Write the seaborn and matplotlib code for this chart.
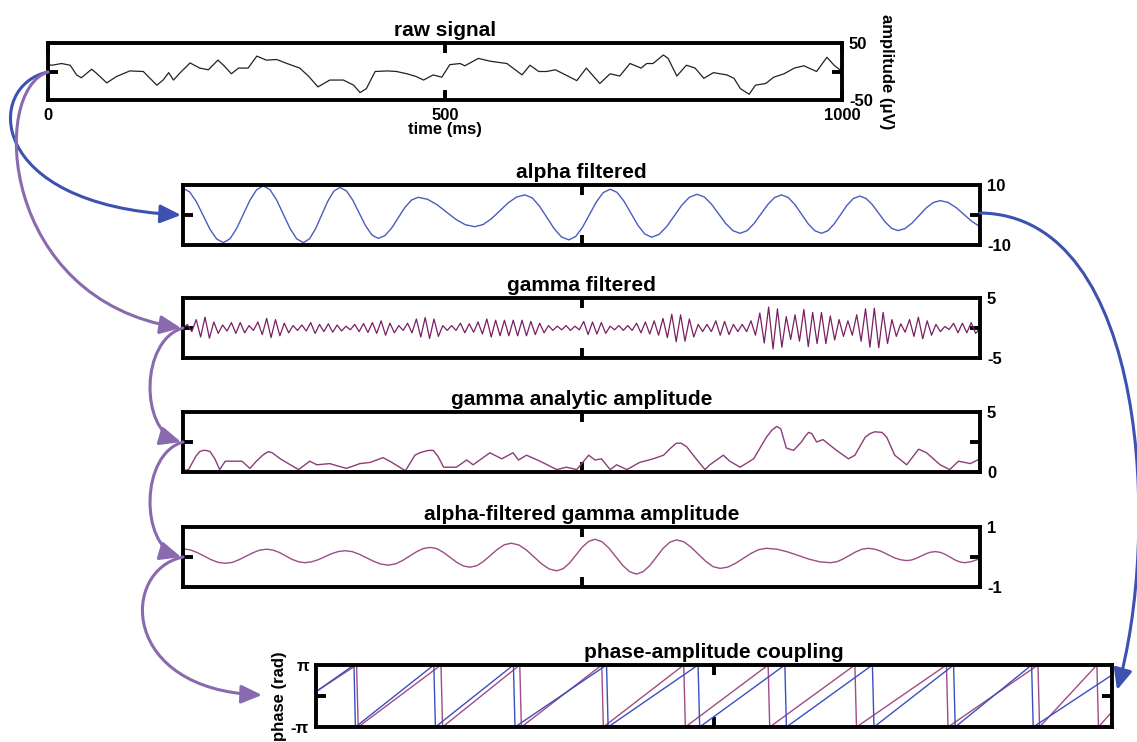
import numpy as np
import matplotlib
matplotlib.use("Agg")
import matplotlib.pyplot as plt
import seaborn as sns
from matplotlib.path import Path
from matplotlib.patches import FancyArrowPatch

sns.set_theme(style="white")
plt.rcParams["font.family"] = ["Liberation Sans", "DejaVu Sans"]
plt.rcParams["font.weight"] = "bold"
plt.rcParams["text.color"] = "black"
plt.rcParams["axes.labelcolor"] = "black"
plt.rcParams["xtick.color"] = "black"
plt.rcParams["ytick.color"] = "black"

# ---- data (time in ms) ----
raw_t = [0, 5, 17, 28, 36, 42, 55, 61, 74, 86, 103, 120, 137, 145, 152, 158, 168, 179,
         191, 202, 214, 221, 231, 240, 252, 263, 275, 288, 301, 317, 328, 340, 355, 372,
         385, 393, 401, 412, 427, 439, 452, 464, 473, 485, 496, 506, 519, 525, 542, 557,
         578, 597, 607, 618, 628, 639, 649, 666, 678, 695, 708, 720, 733, 747, 754, 762,
         775, 781, 792, 804, 815, 826, 838, 855, 864, 872, 883, 891, 904, 914, 927, 940,
         952, 968, 981, 990, 1000]
raw_v = [12, 11, 14, 11, -6, -11, 4, -3, -20, -9, 1, 0, -24, -15, -2, -15, 0, 15,
         6, 3, 20, 11, -4, 6, 6, 27, 20, 21, 14, 6, -8, -27, -15, -15,
         -24, -37, -30, 0, 1, 0, -4, -9, -15, -6, -10, 12, 14, 10, 23, 18,
         14, -6, 11, 0, 0, 3, -4, -16, 6, -21, -4, -8, 14, 6, 14, 14,
         29, 23, -8, 11, 6, -12, -2, -6, -12, -30, -40, -24, -21, -10, -4, 6,
         10, 0, 25, 11, 0]

alpha_t = [0,
           8.4, 16.9, 25.3, 33.7, 42.2, 50.6,
           59.0, 67.3, 75.7, 84.1, 92.4, 100.8,
           109.2, 117.5, 125.9, 134.3, 142.6, 151,
           158.7, 166.3, 174, 181.7, 189.3, 197,
           205, 213, 221, 229, 237, 245,
           253.3, 261.7, 270, 278.3, 286.7, 295,
           306.8, 318.7, 330.5, 342.3, 354.2, 366,
           376.5, 387, 397.5, 408, 418.5, 429,
           438.2, 447.3, 456.5, 465.7, 474.8, 484,
           492.7, 501.3, 510, 518.7, 527.3, 536,
           544.7, 553.3, 562, 570.7, 579.3, 588,
           597.5, 607, 616.5, 626, 635.5, 645,
           654, 663, 672, 681, 690, 699,
           707.7, 716.3, 725, 733.7, 742.3, 751,
           759.3, 767.7, 776, 784.3, 792.7, 801,
           809, 817, 825, 833, 841, 849,
           857, 865, 873, 881, 889, 897,
           905.8, 914.7, 923.5, 932.3, 941.2, 950,
           960, 970, 980, 990, 1000]
alpha_v = [8.9,
           7.69, 4.38, -0.15, -4.68, -7.99, -9.2,
           -7.93, -4.48, 0.25, 4.98, 8.43, 9.7,
           8.43, 4.98, 0.25, -4.48, -7.93, -9.2,
           -7.97, -4.6, 0, 4.6, 7.97, 9.2,
           8.06, 4.95, 0.7, -3.55, -6.66, -7.8,
           -6.88, -4.38, -0.95, 2.48, 4.98, 5.9,
           5.24, 3.45, 1.0, -1.45, -3.24, -3.9,
           -3.19, -1.25, 1.4, 4.05, 5.99, 6.7,
           5.7, 2.95, -0.8, -4.55, -7.3, -8.3,
           -7.17, -4.08, 0.15, 4.38, 7.47, 8.6,
           7.53, 4.6, 0.6, -3.4, -6.33, -7.4,
           -6.44, -3.83, -0.25, 3.33, 5.94, 6.9,
           6.03, 3.65, 0.4, -2.85, -5.23, -6.1,
           -5.24, -2.9, 0.3, 3.5, 5.84, 6.7,
           5.84, 3.5, 0.3, -2.9, -5.24, -6.1,
           -5.27, -3.0, 0.1, 3.2, 5.47, 6.3,
           5.53, 3.43, 0.55, -2.33, -4.43, -5.2,
           -4.53, -2.7, -0.2, 2.3, 4.13, 4.8,
           4.18, 2.48, 0.15, -2.18, -3.88]

# gamma-filtered trace: one value per half cycle (peak / trough)
gamma_filt = [
    0.6, -0.6, 1.4, -1.5, 1.8, -1.7, 1.0, -0.9, 0.5, -0.5,
    0.9, -0.9, 0.9, -0.8, 0.4, -0.4, 1.0, -1.1, 1.6, -1.6,
    1.4, -1.3, 0.8, -0.8, 0.4, -0.4, 0.5, -0.5, 0.9, -0.9,
    0.6, -0.6, 0.7, -0.7, 0.5, -0.5, 0.3, -0.3, 0.6, -0.6,
    0.75, -0.75, 0.9, -0.9, 1.2, -1.2, 0.8, -0.8, 0.4, -0.4,
    0.8, -0.8, 1.5, -1.5, 1.75, -1.75, 1.5, -1.4, 0.4, -0.4,
    0.4, -0.4, 0.8, -0.8, 0.7, -0.7, 1.0, -1.0, 1.5, -1.5,
    1.3, -1.3, 1.3, -1.3, 1.3, -1.3, 1.3, -1.3, 1.1, -1.1,
    0.8, -0.8, 0.4, -0.4, 0.3, -0.3, 0.4, -0.4, 0.3, -0.3,
    1.1, -1.1, 1.0, -1.0, 0.9, -0.9, 0.3, -0.3, 0.4, -0.4,
    0.4, -0.4, 0.8, -0.8, 1.0, -1.0, 1.2, -1.2, 1.6, -1.6,
    2.3, -2.3, 2.2, -2.2, 1.5, -1.5, 0.6, -0.6, 0.6, -0.6,
    1.2, -1.2, 1.1, -1.1, 0.6, -0.6, 0.6, -0.6, 1.2, -1.2,
    2.5, -2.5, 3.5, -3.5, 3.2, -3.2, 1.9, -1.9, 2.2, -2.2,
    3.1, -3.1, 2.6, -2.6, 2.6, -2.6, 2.0, -2.0, 1.4, -1.4,
    1.2, -1.2, 2.2, -2.2, 3.2, -3.2, 3.3, -3.3, 2.6, -2.6,
    1.4, -1.4, 0.7, -0.7, 1.4, -1.4, 1.8, -1.8, 1.2, -1.2,
    0.6, -0.6, 0.25, -0.25, 0.8, -0.8, 0.8, -0.8, 0.9, -0.9,
]

amp_t = [0, 7, 16, 21, 25, 29, 34, 40, 46, 53, 67, 74, 84, 92, 100, 107, 112, 122, 145, 159,
         168, 184, 205, 222, 235, 251, 262, 279, 291, 297, 302, 308, 314, 320, 327, 343, 356,
         364, 385, 400, 414, 421, 431, 448, 469, 481, 494, 509, 517, 525, 536, 544, 557, 573,
         590, 603, 612, 619, 625, 632, 645, 655, 661, 678, 686, 699, 716, 732, 739, 745, 750,
         757, 766, 776, 781, 785, 789, 795, 803, 820, 835, 843, 856, 862, 868, 877, 883, 893,
         908, 923, 933, 950, 962, 973, 988, 1000]
amp_v = [0.1, 0.2, 1.3, 1.7, 1.8, 1.8, 1.7, 1.1, 0.2, 0.9, 0.9, 0.9, 0.3, 0.9, 1.4, 1.7, 1.6,
         1.1, 0.2, 0.9, 0.6, 0.7, 0.3, 0.7, 0.8, 1.2, 0.8, 0.1, 1.4, 1.6, 1.7, 1.8, 1.8, 1.3,
         0.4, 0.4, 1.0, 0.6, 1.6, 1.1, 1.6, 1.0, 1.4, 0.9, 0.2, 0.4, 0.2, 1.4, 1.0, 1.1, 0.2,
         0.6, 0.2, 0.8, 1.1, 1.4, 2.0, 2.4, 2.4, 2.1, 1.0, 0.2, 0.6, 1.4, 0.9, 0.4, 1.1, 2.9,
         3.5, 3.8, 3.6, 2.0, 1.8, 2.5, 3.0, 3.3, 3.2, 2.5, 2.7, 1.8, 1.1, 1.4, 2.9, 3.2, 3.35,
         3.3, 2.9, 1.4, 0.6, 1.9, 1.6, 0.6, 0.2, 0.9, 0.7, 1.1]

amp_alpha_t = [0,
               8.8, 17.7, 26.5, 35.3, 44.2, 53,
               61.7, 70.3, 79, 87.7, 96.3, 105,
               113, 121, 129, 137, 145, 153,
               161.3, 169.7, 178, 186.3, 194.7, 203,
               212.2, 221.3, 230.5, 239.7, 248.8, 258,
               266.7, 275.3, 284, 292.7, 301.3, 310,
               318.3, 326.7, 335, 343.3, 351.7, 360,
               368.7, 377.3, 386, 394.7, 403.3, 412,
               421.5, 431, 440.5, 450, 459.5, 469,
               477, 485, 493, 501, 509, 517,
               525.7, 534.3, 543, 551.7, 560.3, 569,
               577.3, 585.7, 594, 602.3, 610.7, 619,
               628.2, 637.3, 646.5, 655.7, 664.8, 674,
               683.7, 693.3, 703, 712.7, 722.3, 732,
               745.3, 758.7, 772, 785.3, 798.7, 812,
               820, 828, 836, 844, 852, 860,
               868, 876, 884, 892, 900, 908,
               914, 920, 926, 932, 938, 944,
               950.2, 956.3, 962.5, 968.7, 974.8, 981,
               990, 1000]
amp_alpha_v = [0.27,
               0.24, 0.15, 0.03, -0.09, -0.18, -0.21,
               -0.18, -0.09, 0.025, 0.14, 0.23, 0.26,
               0.23, 0.15, 0.035, -0.08, -0.16, -0.19,
               -0.16, -0.09, 0.01, 0.11, 0.18, 0.21,
               0.18, 0.09, -0.03, -0.15, -0.24, -0.27,
               -0.23, -0.12, 0.025, 0.17, 0.28, 0.32,
               0.28, 0.155, -0.01, -0.175, -0.30, -0.34,
               -0.29, -0.14, 0.06, 0.26, 0.41, 0.46,
               0.40, 0.23, 0.0, -0.23, -0.40, -0.46,
               -0.39, -0.2, 0.065, 0.33, 0.52, 0.59,
               0.51, 0.30, 0.01, -0.28, -0.49, -0.57,
               -0.49, -0.285, 0.0, 0.285, 0.49, 0.57,
               0.51, 0.33, 0.095, -0.14, -0.32, -0.38,
               -0.335, -0.21, -0.045, 0.12, 0.245, 0.29,
               0.26, 0.17, 0.05, -0.07, -0.16, -0.19,
               -0.16, -0.07, 0.05, 0.17, 0.26, 0.29,
               0.26, 0.19, 0.085, -0.02, -0.09, -0.12,
               -0.10, -0.045, 0.03, 0.105, 0.16, 0.18,
               0.155, 0.09, -0.005, -0.10, -0.165, -0.19,
               -0.15, -0.05]

PI = np.pi
phase_alpha_t = [0, 47.7, 49.5, 148, 150, 248, 250, 365, 367, 480, 482, 589, 591,
                 699, 701, 801, 803, 899, 901, 1000]
phase_alpha_v = [0.44, PI, -PI, PI, -PI, PI, -PI, PI, -PI, PI, -PI, PI, -PI,
                 PI, -PI, PI, -PI, PI, -PI, 2.13]
phase_amp_t = [0, 51, 53, 157, 159, 256, 258, 359, 361, 462, 464, 568, 570,
               677, 679, 792, 794, 907, 909, 981, 983, 1000]
phase_amp_v = [0.44, PI, -PI, PI, -PI, PI, -PI, PI, -PI, PI, -PI, PI, -PI,
               PI, -PI, PI, -PI, PI, -PI, PI, -PI, -1.6]

# ---- figure ----
W, H = 1137, 742
fig = plt.figure(figsize=(W / 100, H / 100), dpi=100)


def px_axes(x0, y0, x1, y1):
    return fig.add_axes([x0 / W, 1 - y1 / H, (x1 - x0) / W, (y1 - y0) / H])


def style_panel(ax, ylim, ylabels, title, side="right", xlabels=False):
    ax.set_xlim(0, 1000)
    ax.set_ylim(*ylim)
    for s in ax.spines.values():
        s.set_visible(True)
        s.set_linewidth(2.8)
        s.set_color("black")
    if xlabels:
        ax.set_xticks([0, 500, 1000])
        ax.set_xticklabels(["0", "500", "1000"], fontsize=12, fontweight="bold")
    else:
        ax.set_xticks([500])
        ax.set_xticklabels([])
    ax.tick_params(axis="x", direction="in", length=7, width=2.8, top=True, bottom=True,
                   pad=6)
    ax.set_yticks(list(ylim))
    ax.set_yticklabels(ylabels, fontsize=12, fontweight="bold")
    ax.set_yticks([(ylim[0] + ylim[1]) / 2], minor=True)
    ax.tick_params(axis="y", which="major", length=0, pad=5,
                   labelleft=(side == "left"), labelright=(side == "right"))
    ax.tick_params(axis="y", which="minor", direction="in", length=7, width=2.8,
                   left=True, right=True)
    ax.set_title(title, fontsize=15, fontweight="bold", pad=5)
    ax.set_xlabel("")
    ax.set_ylabel("")
    ax.grid(False)


ax1 = px_axes(48, 43, 842, 100)
ax2 = px_axes(183, 185, 980, 245)
ax3 = px_axes(183, 298, 980, 358)
ax4 = px_axes(183, 412, 980, 472)
ax5 = px_axes(183, 527, 980, 587)
ax6 = px_axes(316, 665, 1112, 727)

sns.lineplot(x=raw_t, y=raw_v, ax=ax1, color="#222222", linewidth=0.9, sort=False, estimator=None)
style_panel(ax1, (-50, 50), ["-50", "50"], "raw signal", xlabels=True)
ax1.set_xlabel("time (ms)", fontsize=12, fontweight="bold", labelpad=-1)
ax1.yaxis.set_label_position("right")
ax1.set_ylabel("amplitude (μV)", fontsize=12, fontweight="bold", rotation=270, labelpad=15)

sns.lineplot(x=alpha_t, y=alpha_v, ax=ax2, color="#4a5cbf", linewidth=1.0, sort=False, estimator=None)
style_panel(ax2, (-10, 10), ["-10", "10"], "alpha filtered")

gamma_t = np.linspace(0, 1000, len(gamma_filt) + 2)
sns.lineplot(x=gamma_t, y=[0] + gamma_filt + [0], ax=ax3, color="#7a1f62", linewidth=0.9,
             sort=False, estimator=None)
style_panel(ax3, (-5, 5), ["-5", "5"], "gamma filtered")

sns.lineplot(x=amp_t, y=amp_v, ax=ax4, color="#8c3d77", linewidth=1.0, sort=False, estimator=None)
style_panel(ax4, (0, 5), ["0", "5"], "gamma analytic amplitude")

sns.lineplot(x=amp_alpha_t, y=amp_alpha_v, ax=ax5, color="#9b4d84", linewidth=1.0, sort=False,
             estimator=None)
style_panel(ax5, (-1, 1), ["-1", "1"], "alpha-filtered gamma amplitude")

sns.lineplot(x=phase_amp_t, y=phase_amp_v, ax=ax6, color="#a04c86", linewidth=1.0, sort=False,
             estimator=None)
sns.lineplot(x=phase_alpha_t, y=phase_alpha_v, ax=ax6, color="#3b4fc0", linewidth=1.0, sort=False,
             estimator=None)
style_panel(ax6, (-PI, PI), ["-π", "π"], "phase-amplitude coupling", side="left")
ax6.set_ylabel("phase (rad)", fontsize=12, fontweight="bold", labelpad=3)


# ---- connecting arrows (pixel layout) ----
def curve_arrow(p0, c1, c2, p3, color, lw=2.2):
    verts = [(x / W, 1 - y / H) for x, y in (p0, c1, c2, p3)]
    path = Path(verts, [Path.MOVETO, Path.CURVE4, Path.CURVE4, Path.CURVE4])
    arr = FancyArrowPatch(path=path, arrowstyle="-|>,head_length=0.9,head_width=0.4",
                          mutation_scale=14, color=color, lw=lw, shrinkA=0, shrinkB=0,
                          transform=fig.transFigure, zorder=5)
    fig.add_artist(arr)


blue = "#3d52b0"
purple = "#8a6aae"
curve_arrow((48, 72), (-15, 85), (-15, 205), (181, 215), blue)
curve_arrow((48, 72), (-10, 90), (0, 300), (181, 328), purple)
curve_arrow((183, 328), (140, 340), (140, 430), (181, 442), purple)
curve_arrow((183, 442), (140, 454), (140, 545), (181, 557), purple)
curve_arrow((183, 557), (120, 570), (120, 690), (262, 695), purple)
curve_arrow((980, 213), (1150, 215), (1160, 540), (1117, 690), blue)

fig.savefig("out.png", dpi=100)
